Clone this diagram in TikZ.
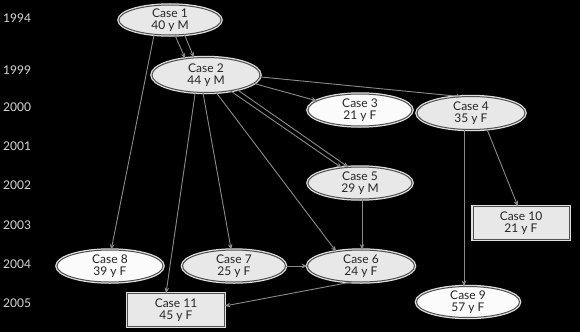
\documentclass[tikz,border=0pt]{standalone}
\usepackage{fontspec}
\setmainfont{Lato}
\usetikzlibrary{shapes.geometric,arrows.meta}
\definecolor{nodefill}{HTML}{E8E8E8}
\definecolor{whitefill}{HTML}{FBFBFB}
\definecolor{border}{HTML}{505050}
\definecolor{halo}{HTML}{E0E0E0}
\definecolor{edgecol}{HTML}{8A8A8A}
\definecolor{yearcol}{HTML}{D8D8D8}
\tikzset{
  casebase/.style={draw=border, line width=1pt, inner xsep=0pt, inner ysep=-3pt, outer sep=0pt,
    align=center, font=\fontsize{12}{12}\selectfont, text=black!85,
    preaction={draw=halo, line width=3.5pt}},
  grayell/.style={casebase, ellipse, fill=nodefill},
  whiteell/.style={casebase, ellipse, fill=whitefill},
  graybox/.style={casebase, rectangle, fill=nodefill, inner ysep=0pt},
  year/.style={anchor=west, text=yearcol, font=\fontsize{12}{12}\selectfont, inner sep=0pt},
  link/.style={draw=edgecol, line width=0.9pt, -{Stealth[length=6pt,width=4.5pt]}},
}
\begin{document}
\begin{tikzpicture}[x=1pt,y=-1pt]
\fill[black] (0,0) rectangle (580,332);
\useasboundingbox (0,0) rectangle (580,332);

% years
\node[year] (y1994) at (3,18) {1994};
\node[year] (y1999) at (3,70) {1999};
\node[year] (y2000) at (3,107) {2000};
\node[year] (y2001) at (3,146) {2001};
\node[year] (y2002) at (3,185) {2002};
\node[year] (y2003) at (3,225) {2003};
\node[year] (y2004) at (3,264) {2004};
\node[year] (y2005) at (3,303) {2005};

% cases
\node[grayell, minimum width=102pt, minimum height=30pt] (c1) at (170,20) {Case 1\\40 y M};
\node[grayell, minimum width=108pt, minimum height=35pt] (c2) at (206,75) {Case 2\\44 y M};
\node[whiteell, minimum width=104pt, minimum height=32pt] (c3) at (360,110) {Case 3\\21 y F};
\node[grayell, minimum width=108pt, minimum height=33pt] (c4) at (471,113) {Case 4\\35 y F};
\node[grayell, minimum width=104pt, minimum height=32pt] (c5) at (360,183) {Case 5\\29 y M};
\node[grayell, minimum width=107pt, minimum height=32pt] (c6) at (361,266) {Case 6\\24 y F};
\node[grayell, minimum width=103pt, minimum height=32pt] (c7) at (234,266) {Case 7\\25 y F};
\node[whiteell, minimum width=106pt, minimum height=32pt] (c8) at (110,266) {Case 8\\39 y F};
\node[whiteell, minimum width=103pt, minimum height=31pt] (c9) at (468,302) {Case 9\\57 y F};
\node[graybox, minimum width=96pt, minimum height=33pt] (c10) at (521,223) {Case 10\\21 y F};
\node[graybox, minimum width=97pt, minimum height=33pt] (c11) at (176,310) {Case 11\\45 y F};

% connectors
\draw[link] (c1.-72) -- (c2.142);
\draw[link] (c1.-45) -- (c2.125);
\draw[link] (c1.222) -- (c8.86);
\draw[link] (c2.-2) -- (c4.118);
\draw[link] (c2.-10) -- (c3.168);
\draw[link] (c2.-33) -- (c5.140);
\draw[link] (c2.-25) -- (c5.126);
\draw[link] (c2.-60) -- (c6.150);
\draw[link] (c2.-100) -- (c7.100);
\draw[link] (c2.-122) -- ([xshift=-10pt]c11.north);
\draw[link] ([xshift=-7pt]c4.south) -- ([xshift=-7pt]c4.south |- c9.north);
\draw[link] (c4.-45) -- ([xshift=-3pt]c10.north);
\draw[link] ([xshift=2pt]c5.south) -- ([xshift=2pt]c5.south |- c6.north);
\draw[link] (c7.east) -- (c6.west);
\draw[link] (c6.-118) -- ([yshift=4pt]c11.east);
\end{tikzpicture}
\end{document}
